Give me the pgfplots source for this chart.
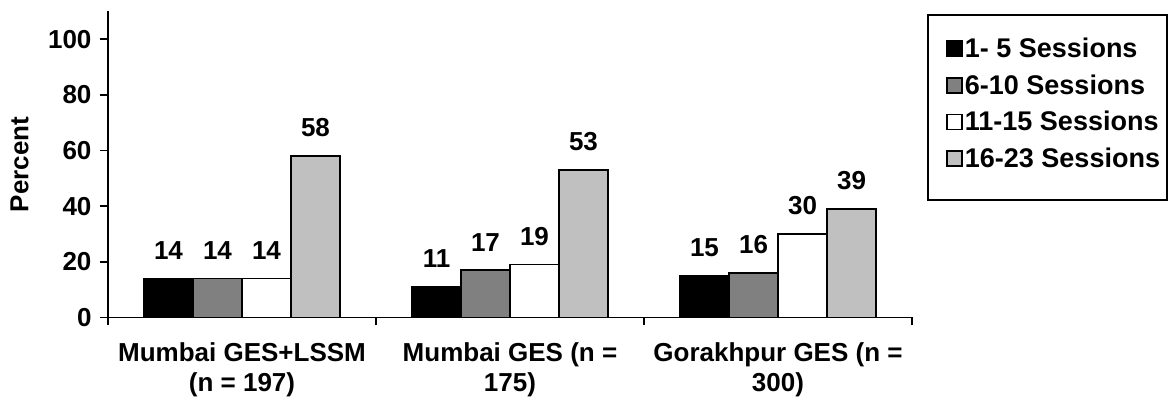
\documentclass[border=0pt]{standalone}
\usepackage{fontspec}
\setmainfont{Liberation Sans}
\usepackage{pgfplots}
\pgfplotsset{compat=1.18}
\definecolor{midgray}{RGB}{128,128,128}
\definecolor{litegray}{RGB}{192,192,192}

\begin{document}
\begin{tikzpicture}[font=\fontsize{26}{30}\selectfont\bfseries]
\begin{axis}[
    scale only axis, width=804pt, height=306pt,
    xmin=0, xmax=3, ymin=0, ymax=110,
    axis x line*=bottom, axis y line*=left,
    axis line style={line width=1.8pt},
    ytick={0,20,...,100},
    yticklabel style={xshift=-5pt},
    xtick={0,1,2,3}, xticklabels={},
    extra x ticks={0.5,1.5,2.5},
    extra x tick labels={Mumbai GES+LSSM\\(n = 197),Mumbai GES (n =\\175),Gorakhpur GES (n =\\300)},
    extra x tick style={major tick length=0pt, xticklabel style={align=center, yshift=-22pt}},
    tick align=outside, major tick length=8pt,
    tick style={black, line width=1.8pt},
    /pgf/number format/assume math mode=true,
    ylabel={Percent},
    every axis y label/.style={at={(axis description cs:-0.11,0.5)}, rotate=90, anchor=center},
    ybar=0pt, bar width=49pt,
    nodes near coords, nodes near coords style={yshift=15pt},
    legend image code/.code={\path[draw=none,fill=none] (0pt,0pt) -- (16pt,0pt);
        \draw[#1,line width=1.5pt] (16pt,-7.5pt) rectangle (31pt,7.5pt);},
    legend cell align=left,
    legend style={at={(rel axis cs:1.0199,0.9886)}, anchor=north west, draw=none, fill=none,
        font=\fontsize{27}{30}\selectfont\bfseries,
        row sep=11.5pt, inner xsep=3pt, inner ysep=21pt},
    clip=false,
]
\addplot[fill=black, draw=black, line width=1.5pt] coordinates {(0.5,14) (1.5,11) (2.5,15)};
\addlegendentry{1- 5 Sessions}
\addplot[fill=midgray, draw=black, line width=1.5pt] coordinates {(0.5,14) (1.5,17) (2.5,16)};
\addlegendentry{6-10 Sessions}
\addplot[fill=white, draw=black, line width=1.5pt] coordinates {(0.5,14) (1.5,19) (2.5,30)};
\addlegendentry{11-15 Sessions}
\addplot[fill=litegray, draw=black, line width=1.5pt] coordinates {(0.5,58) (1.5,53) (2.5,39)};
\addlegendentry{16-23 Sessions}
\coordinate (o) at (rel axis cs:0,0);
\end{axis}
\draw[line width=1.8pt] ([shift={(820pt,117.5pt)}]o) rectangle ([shift={(1059pt,302.5pt)}]o);
\pgfresetboundingbox
\path ([shift={(-108pt,-88.5pt)}]o) rectangle ([shift={(1062pt,317.5pt)}]o);
\end{tikzpicture}
\end{document}
